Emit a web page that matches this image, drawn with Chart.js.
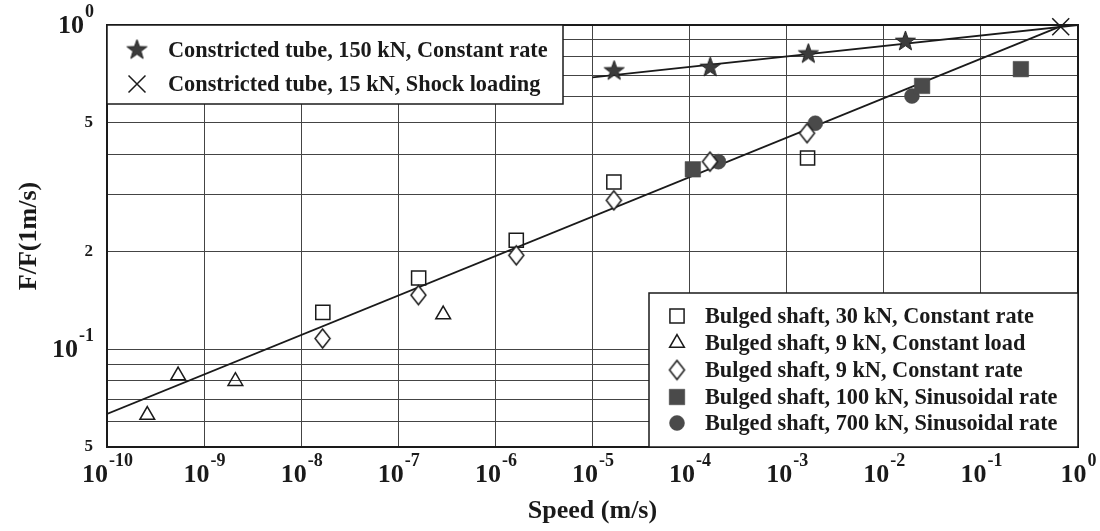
<!DOCTYPE html>
<html>
<head>
<meta charset="utf-8">
<script src="https://cdn.jsdelivr.net/npm/chart.js@4.4.0/dist/chart.umd.min.js"></script>
<style>
  html, body { margin: 0; padding: 0; background: #fff; }
</style>
</head>
<body>
<canvas id="chart" width="1100" height="531"></canvas>
<script>
// axis ticks
const xTickValues = [1e-10, 1e-9, 1e-8, 1e-7, 1e-6, 1e-5, 1e-4, 1e-3, 1e-2, 1e-1, 1];
const xTickExp = ['-10', '-9', '-8', '-7', '-6', '-5', '-4', '-3', '-2', '-1', '0'];
const yGridValues = [0.05, 0.06, 0.07, 0.08, 0.09, 0.1, 0.2, 0.3, 0.4, 0.5, 0.6, 0.7, 0.8, 0.9, 1];
const yLabelValues = [0.05, 0.1, 0.2, 0.5, 1];
const yLabelBase = ['5', '10', '2', '5', '10'];
const yLabelExp = ['', '-1', '', '', '0'];

// constricted tube
const tube150Speed = [1.67e-5, 1.63e-4, 1.67e-3, 1.67e-2];
const tube150Ratio = [0.722, 0.74, 0.814, 0.89];
const tube15Speed = [0.664];
const tube15Ratio = [0.988];
const tubeFitSpeed = [1e-5, 1];
const tubeFitRatio = [0.69, 1.0];

// bulged shaft
const shaft30Speed = [1.67e-8, 1.62e-7, 1.64e-6, 1.66e-5, 1.64e-3];
const shaft30Ratio = [0.13, 0.166, 0.217, 0.328, 0.389];
const shaft9LoadSpeed = [2.6e-10, 5.4e-10, 2.1e-9, 2.9e-7];
const shaft9LoadRatio = [0.0627, 0.083, 0.0798, 0.128];
const shaft9RateSpeed = [1.66e-8, 1.61e-7, 1.64e-6, 1.66e-5, 1.62e-4, 1.62e-3];
const shaft9RateRatio = [0.108, 0.147, 0.195, 0.288, 0.379, 0.464];
const shaft100Speed = [1.08e-4, 2.48e-2, 0.258];
const shaft100Ratio = [0.359, 0.649, 0.731];
const shaft700Speed = [1.98e-4, 1.97e-3, 1.95e-2];
const shaft700Ratio = [0.379, 0.498, 0.604];
const shaftFitSpeed = [1e-10, 0.66];
const shaftFitRatio = [0.0632, 0.99];

const serif = "'Liberation Serif', 'Times New Roman', serif";
const ink = '#1a1a1a';
const darkFill = '#4a4a4a';

function pts(xs, ys) {
  return xs.map((x, i) => ({ x: x, y: ys[i] }));
}

function starImage(outer, inner) {
  const c = document.createElement('canvas');
  c.width = c.height = outer * 2 + 4;
  const g = c.getContext('2d');
  const cx = c.width / 2, cy = c.height / 2;
  g.beginPath();
  for (let i = 0; i < 10; i++) {
    const r = i % 2 === 0 ? outer : inner;
    const a = -Math.PI / 2 + i * Math.PI / 5;
    g.lineTo(cx + r * Math.cos(a), cy + r * Math.sin(a));
  }
  g.closePath();
  g.fillStyle = '#3c3c3c';
  g.fill();
  g.strokeStyle = '#222';
  g.lineWidth = 1;
  g.stroke();
  return c;
}

function diamondImage(w, h) {
  const c = document.createElement('canvas');
  c.width = w + 4;
  c.height = h + 4;
  const g = c.getContext('2d');
  const cx = c.width / 2, cy = c.height / 2;
  g.beginPath();
  g.moveTo(cx, cy - h / 2);
  g.lineTo(cx + w / 2, cy);
  g.lineTo(cx, cy + h / 2);
  g.lineTo(cx - w / 2, cy);
  g.closePath();
  g.fillStyle = '#fff';
  g.fill();
  g.strokeStyle = ink;
  g.lineWidth = 1.5;
  g.stroke();
  return c;
}

const starPic = starImage(10.5, 4.2);
const diamondPic = diamondImage(15, 19);

function drawPow(ctx, base, exp, x, baseline, align) {
  ctx.font = 'bold 26px ' + serif;
  const wb = ctx.measureText(base).width;
  ctx.font = 'bold 18px ' + serif;
  const we = ctx.measureText(exp).width;
  const total = wb + we;
  const x0 = align === 'right' ? x - total : x - total / 2;
  ctx.textAlign = 'left';
  ctx.textBaseline = 'alphabetic';
  ctx.font = 'bold 26px ' + serif;
  ctx.fillText(base, x0, baseline);
  ctx.font = 'bold 18px ' + serif;
  ctx.fillText(exp, x0 + wb + 1, baseline - 16);
}

const decorPlugin = {
  id: 'decor',
  afterDraw(chart) {
    const ctx = chart.ctx;
    const area = chart.chartArea;
    const xs = chart.scales.x, ys = chart.scales.y;
    ctx.save();
    ctx.fillStyle = ink;

    // tick labels
    xTickValues.forEach((v, i) => {
      drawPow(ctx, '10', xTickExp[i], xs.getPixelForValue(v), 482, 'center');
    });
    yLabelValues.forEach((v, i) => {
      const py = ys.getPixelForValue(v);
      if (yLabelExp[i]) {
        drawPow(ctx, yLabelBase[i], yLabelExp[i], 93, py + 8, 'right');
      } else {
        ctx.font = 'bold 17px ' + serif;
        ctx.textAlign = 'right';
        ctx.textBaseline = 'middle';
        ctx.fillText(yLabelBase[i], 93, py);
      }
    });

    // frame
    ctx.strokeStyle = ink;
    ctx.lineWidth = 2;
    ctx.strokeRect(area.left, area.top, area.right - area.left, area.bottom - area.top);

    // legend boxes
    const boxes = [
      { x0: area.left, y0: area.top, x1: 563, y1: 104, rows: [50, 84], mx: 137, tx: 168, sets: [0, 1] },
      { x0: 649, y0: 293, x1: area.right, y1: area.bottom, rows: [316, 343, 370, 397, 423], mx: 677, tx: 705, sets: [2, 3, 4, 5, 6] }
    ];
    boxes.forEach(b => {
      ctx.fillStyle = '#fff';
      ctx.fillRect(b.x0, b.y0, b.x1 - b.x0, b.y1 - b.y0);
      ctx.strokeStyle = ink;
      ctx.lineWidth = 1.5;
      ctx.strokeRect(b.x0, b.y0, b.x1 - b.x0, b.y1 - b.y0);
      b.sets.forEach((di, r) => {
        const ds = chart.data.datasets[di];
        const y = b.rows[r];
        ctx.save();
        ctx.fillStyle = ds.backgroundColor;
        ctx.strokeStyle = ds.borderColor;
        ctx.lineWidth = ds.borderWidth;
        Chart.helpers.drawPoint(ctx, { pointStyle: ds.pointStyle, radius: ds.pointRadius, borderWidth: ds.borderWidth, rotation: 0 }, b.mx, y);
        ctx.restore();
        ctx.fillStyle = ink;
        ctx.font = 'bold 22.3px ' + serif;
        ctx.textAlign = 'left';
        ctx.textBaseline = 'middle';
        ctx.fillText(ds.label, b.tx, y + 1);
      });
    });
    ctx.restore();
  }
};

const markerBase = { showLine: false, clip: false };

new Chart(document.getElementById('chart'), {
  type: 'scatter',
  data: {
    datasets: [
      { ...markerBase, label: 'Constricted tube, 150 kN, Constant rate', data: pts(tube150Speed, tube150Ratio),
        pointStyle: starPic, pointRadius: 8, backgroundColor: '#3c3c3c', borderColor: '#222', borderWidth: 1, order: 1 },
      { ...markerBase, label: 'Constricted tube, 15 kN, Shock loading', data: pts(tube15Speed, tube15Ratio),
        pointStyle: 'crossRot', pointRadius: 12, backgroundColor: ink, borderColor: ink, borderWidth: 1.5, order: 0 },
      { ...markerBase, label: 'Bulged shaft, 30 kN, Constant rate', data: pts(shaft30Speed, shaft30Ratio),
        pointStyle: 'rect', pointRadius: 10, backgroundColor: 'rgba(0,0,0,0)', borderColor: ink, borderWidth: 1.5, order: 3 },
      { ...markerBase, label: 'Bulged shaft, 9 kN, Constant load', data: pts(shaft9LoadSpeed, shaft9LoadRatio),
        pointStyle: 'triangle', pointRadius: 8.5, backgroundColor: 'rgba(0,0,0,0)', borderColor: ink, borderWidth: 1.5, order: 4 },
      { ...markerBase, label: 'Bulged shaft, 9 kN, Constant rate', data: pts(shaft9RateSpeed, shaft9RateRatio),
        pointStyle: diamondPic, pointRadius: 8, backgroundColor: '#fff', borderColor: ink, borderWidth: 1.5, order: 2 },
      { ...markerBase, label: 'Bulged shaft, 100 kN, Sinusoidal rate', data: pts(shaft100Speed, shaft100Ratio),
        pointStyle: 'rect', pointRadius: 11, backgroundColor: darkFill, borderColor: darkFill, borderWidth: 0.5, order: 5 },
      { ...markerBase, label: 'Bulged shaft, 700 kN, Sinusoidal rate', data: pts(shaft700Speed, shaft700Ratio),
        pointStyle: 'circle', pointRadius: 7.5, backgroundColor: darkFill, borderColor: darkFill, borderWidth: 0.5, order: 6 },
      { label: 'tube fit', data: pts(tubeFitSpeed, tubeFitRatio), showLine: true, pointRadius: 0,
        borderColor: ink, borderWidth: 1.8, order: 10 },
      { label: 'shaft fit', data: pts(shaftFitSpeed, shaftFitRatio), showLine: true, pointRadius: 0,
        borderColor: ink, borderWidth: 1.8, order: 10 }
    ]
  },
  options: {
    responsive: false,
    animation: false,
    devicePixelRatio: 1,
    layout: { padding: { left: 0, right: 22, top: 25, bottom: 0 } },
    plugins: {
      legend: { display: false },
      tooltip: { enabled: false }
    },
    scales: {
      x: {
        type: 'logarithmic',
        min: 1e-10,
        max: 1,
        afterBuildTicks: s => { s.ticks = xTickValues.map(v => ({ value: v })); },
        afterFit: s => { s.height = 84; },
        ticks: { display: false },
        grid: { color: '#444', lineWidth: 1, drawTicks: false },
        border: { display: false },
        title: { display: true, text: 'Speed (m/s)', color: ink,
          font: { family: serif, size: 26, weight: 'bold' }, padding: { top: 0, bottom: 4 } }
      },
      y: {
        type: 'logarithmic',
        min: 0.05,
        max: 1,
        afterBuildTicks: s => { s.ticks = yGridValues.map(v => ({ value: v })); },
        afterFit: s => { s.width = 107; },
        ticks: { display: false },
        grid: { color: '#444', lineWidth: 1, drawTicks: false },
        border: { display: false },
        title: { display: true, text: 'F/F(1m/s)', color: ink,
          font: { family: serif, size: 26, weight: 'bold' }, padding: { top: 14, bottom: 0 } }
      }
    }
  },
  plugins: [decorPlugin]
});
</script>
</body>
</html>
